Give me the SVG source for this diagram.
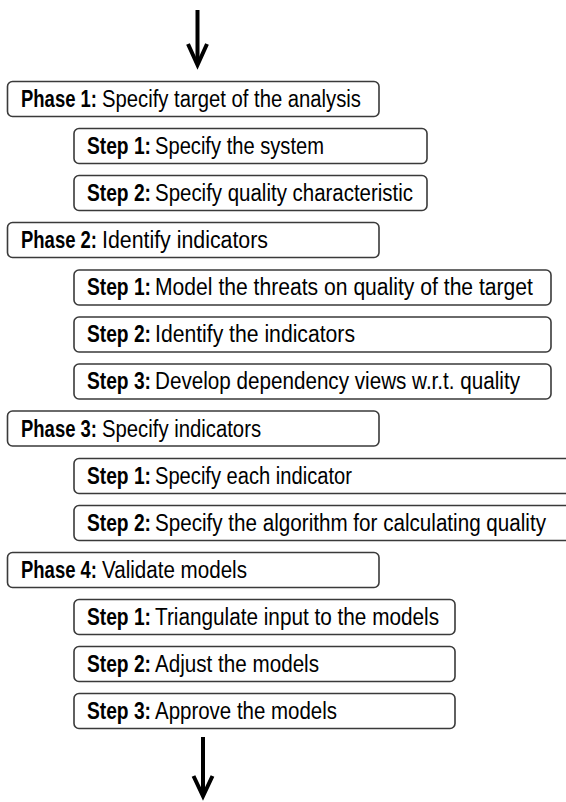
<svg xmlns="http://www.w3.org/2000/svg" width="566" height="802" viewBox="0 0 566 802">
  <style>
    .box { fill: #ffffff; stroke: #3a3a3a; stroke-width: 1.6; }
    .lbl { font-family: "Liberation Sans", Arial, sans-serif; font-size: 23px; fill: #000000; }
    .b { font-weight: bold; }
    .arrow { fill: none; stroke: #000000; stroke-width: 4; stroke-linejoin: miter; }
  </style>
  <rect width="566" height="802" fill="#ffffff"/>

  <g id="connectors">
    <g id="flow-in">
      <line class="arrow" x1="197.5" y1="10" x2="197.5" y2="64"/>
      <polyline class="arrow" points="188,44 197.5,65 207,44"/>
    </g>
    <g id="flow-out">
      <line class="arrow" x1="203" y1="737" x2="203" y2="795"/>
      <polyline class="arrow" points="193.5,776 203,796 212.5,776"/>
    </g>
  </g>

  <!-- Labels use a narrowed sans: bold prefix + regular description -->

  <!-- Phase 1 -->
  <g id="phase1">
    <rect class="box" x="7.5" y="81.5" width="371.5" height="35" rx="5"/>
    <text class="lbl b" transform="translate(21 107) scale(0.8 1)" textLength="95" lengthAdjust="spacingAndGlyphs">Phase 1:</text>
    <text class="lbl" transform="translate(102 107) scale(0.89 1)" textLength="291" lengthAdjust="spacingAndGlyphs">Specify target of the analysis</text>
  </g>
  <g id="phase1-step1">
    <rect class="box" x="74" y="128.5" width="353" height="35" rx="5"/>
    <text class="lbl b" transform="translate(87 153.5) scale(0.835 1)" textLength="76.6" lengthAdjust="spacingAndGlyphs">Step 1:</text>
    <text class="lbl" transform="translate(155 153.5) scale(0.89 1)" textLength="189.9" lengthAdjust="spacingAndGlyphs">Specify the system</text>
  </g>
  <g id="phase1-step2">
    <rect class="box" x="74" y="175.5" width="353" height="35" rx="5"/>
    <text class="lbl b" transform="translate(87 200.5) scale(0.835 1)" textLength="76.6" lengthAdjust="spacingAndGlyphs">Step 2:</text>
    <text class="lbl" transform="translate(155 200.5) scale(0.89 1)" textLength="289.9" lengthAdjust="spacingAndGlyphs">Specify quality characteristic</text>
  </g>

  <!-- Phase 2 -->
  <g id="phase2">
    <rect class="box" x="7.5" y="222.5" width="371.5" height="35" rx="5"/>
    <text class="lbl b" transform="translate(21 248) scale(0.8 1)" textLength="95" lengthAdjust="spacingAndGlyphs">Phase 2:</text>
    <text class="lbl" transform="translate(102 248) scale(0.89 1)" textLength="186.5" lengthAdjust="spacingAndGlyphs">Identify indicators</text>
  </g>
  <g id="phase2-step1">
    <rect class="box" x="74" y="270" width="477" height="35" rx="5"/>
    <text class="lbl b" transform="translate(87 295) scale(0.835 1)" textLength="76.6" lengthAdjust="spacingAndGlyphs">Step 1:</text>
    <text class="lbl" transform="translate(155 295) scale(0.89 1)" textLength="424.7" lengthAdjust="spacingAndGlyphs">Model the threats on quality of the target</text>
  </g>
  <g id="phase2-step2">
    <rect class="box" x="74" y="317" width="477" height="35" rx="5"/>
    <text class="lbl b" transform="translate(87 342) scale(0.835 1)" textLength="76.6" lengthAdjust="spacingAndGlyphs">Step 2:</text>
    <text class="lbl" transform="translate(155 342) scale(0.89 1)" textLength="224.7" lengthAdjust="spacingAndGlyphs">Identify the indicators</text>
  </g>
  <g id="phase2-step3">
    <rect class="box" x="74" y="364" width="477" height="35" rx="5"/>
    <text class="lbl b" transform="translate(87 389) scale(0.835 1)" textLength="76.6" lengthAdjust="spacingAndGlyphs">Step 3:</text>
    <text class="lbl" transform="translate(155 389) scale(0.89 1)" textLength="410.1" lengthAdjust="spacingAndGlyphs">Develop dependency views w.r.t. quality</text>
  </g>

  <!-- Phase 3 -->
  <g id="phase3">
    <rect class="box" x="7.5" y="411" width="371.5" height="35" rx="5"/>
    <text class="lbl b" transform="translate(21 436.5) scale(0.8 1)" textLength="95" lengthAdjust="spacingAndGlyphs">Phase 3:</text>
    <text class="lbl" transform="translate(102 436.5) scale(0.89 1)" textLength="178.7" lengthAdjust="spacingAndGlyphs">Specify indicators</text>
  </g>
  <g id="phase3-step1">
    <rect class="box" x="74" y="458.5" width="500" height="35" rx="5"/>
    <text class="lbl b" transform="translate(87 483.5) scale(0.835 1)" textLength="76.6" lengthAdjust="spacingAndGlyphs">Step 1:</text>
    <text class="lbl" transform="translate(155 483.5) scale(0.89 1)" textLength="221.3" lengthAdjust="spacingAndGlyphs">Specify each indicator</text>
  </g>
  <g id="phase3-step2">
    <rect class="box" x="74" y="505.5" width="500" height="35" rx="5"/>
    <text class="lbl b" transform="translate(87 530.5) scale(0.835 1)" textLength="76.6" lengthAdjust="spacingAndGlyphs">Step 2:</text>
    <text class="lbl" transform="translate(155 530.5) scale(0.89 1)" textLength="439.3" lengthAdjust="spacingAndGlyphs">Specify the algorithm for calculating quality</text>
  </g>

  <!-- Phase 4 -->
  <g id="phase4">
    <rect class="box" x="7.5" y="552.5" width="371.5" height="35" rx="5"/>
    <text class="lbl b" transform="translate(21 578) scale(0.8 1)" textLength="95" lengthAdjust="spacingAndGlyphs">Phase 4:</text>
    <text class="lbl" transform="translate(102 578) scale(0.89 1)" textLength="162.9" lengthAdjust="spacingAndGlyphs">Validate models</text>
  </g>
  <g id="phase4-step1">
    <rect class="box" x="74" y="599.5" width="381" height="35" rx="5"/>
    <text class="lbl b" transform="translate(87 624.5) scale(0.835 1)" textLength="76.6" lengthAdjust="spacingAndGlyphs">Step 1:</text>
    <text class="lbl" transform="translate(155 624.5) scale(0.89 1)" textLength="319.1" lengthAdjust="spacingAndGlyphs">Triangulate input to the models</text>
  </g>
  <g id="phase4-step2">
    <rect class="box" x="74" y="646.5" width="381" height="35" rx="5"/>
    <text class="lbl b" transform="translate(87 671.5) scale(0.835 1)" textLength="76.6" lengthAdjust="spacingAndGlyphs">Step 2:</text>
    <text class="lbl" transform="translate(155 671.5) scale(0.89 1)" textLength="184.3" lengthAdjust="spacingAndGlyphs">Adjust the models</text>
  </g>
  <g id="phase4-step3">
    <rect class="box" x="74" y="693.5" width="381" height="35" rx="5"/>
    <text class="lbl b" transform="translate(87 718.5) scale(0.835 1)" textLength="76.6" lengthAdjust="spacingAndGlyphs">Step 3:</text>
    <text class="lbl" transform="translate(155 718.5) scale(0.89 1)" textLength="204.5" lengthAdjust="spacingAndGlyphs">Approve the models</text>
  </g>
</svg>
